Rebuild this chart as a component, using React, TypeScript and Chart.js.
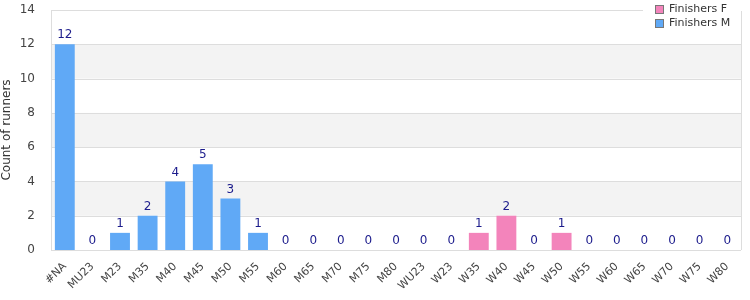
import React, { useEffect, useRef } from "react";
import { Chart, registerables } from "chart.js";

Chart.register(...registerables);

const categories = ["#NA", "MU23", "M23", "M35", "M40", "M45", "M50", "M55", "M60", "M65", "M70", "M75", "M80", "WU23", "W23", "W35", "W40", "W45", "W50", "W55", "W60", "W65", "W70", "W75", "W80"];
const finishersF = [0, 0, 0, 0, 0, 0, 0, 0, 0, 0, 0, 0, 0, 0, 0, 1, 2, 0, 1, 0, 0, 0, 0, 0, 0];
const finishersM = [12, 0, 1, 2, 4, 5, 3, 1, 0, 0, 0, 0, 0, 0, 0, 0, 0, 0, 0, 0, 0, 0, 0, 0, 0];
const yTicks = [0, 2, 4, 6, 8, 10, 12, 14];
const bands = [[2, 4], [6, 8], [10, 12]];

const FONT = "'DejaVu Sans', Verdana, sans-serif";
const PINK = "#f384bb";
const BLUE = "#60a9f6";

export default function App() {
  const ref = useRef<HTMLCanvasElement>(null);
  useEffect(() => {
    document.body.style.margin = "0";
    const canvas = ref.current!;
    const plugin = {
      id: "custom",
      beforeDatasetsDraw(chart: any) {
        const { ctx, chartArea: a, scales } = chart;
        const y = scales.y;
        ctx.save();
        ctx.fillStyle = "#f3f3f3";
        for (const [lo, hi] of bands) {
          const y1 = y.getPixelForValue(hi);
          const y2 = y.getPixelForValue(lo);
          ctx.fillRect(a.left, y1, a.right - a.left, y2 - y1);
        }
        ctx.strokeStyle = "#dddddd";
        ctx.lineWidth = 1;
        for (const t of yTicks) {
          const py = Math.round(y.getPixelForValue(t)) + 0.5;
          ctx.beginPath();
          ctx.moveTo(a.left, py);
          ctx.lineTo(a.right, py);
          ctx.stroke();
        }
        ctx.beginPath();
        ctx.moveTo(Math.round(a.left) + 0.5, a.top);
        ctx.lineTo(Math.round(a.left) + 0.5, a.bottom);
        ctx.moveTo(Math.round(a.right) + 0.5, a.top);
        ctx.lineTo(Math.round(a.right) + 0.5, a.bottom);
        ctx.stroke();
        ctx.restore();
      },
      afterDatasetsDraw(chart: any) {
        const { ctx, scales } = chart;
        const meta = chart.getDatasetMeta(1);
        ctx.save();
        ctx.font = `12px ${FONT}`;
        ctx.fillStyle = "#1c1c8c";
        ctx.textAlign = "center";
        ctx.textBaseline = "bottom";
        categories.forEach((_, i) => {
          const total = finishersF[i] + finishersM[i];
          const x = meta.data[i].x;
          const py = scales.y.getPixelForValue(total);
          ctx.fillText(String(total), x, py - 3);
        });
        ctx.restore();
      },
      afterDraw(chart: any) {
        const { ctx } = chart;
        ctx.save();
        ctx.fillStyle = "#ffffff";
        ctx.fillRect(643, 0, 99, 11);
        const items = [
          { label: "Finishers F", color: PINK },
          { label: "Finishers M", color: BLUE },
        ];
        ctx.font = `11px ${FONT}`;
        ctx.textBaseline = "middle";
        ctx.textAlign = "left";
        items.forEach((it, k) => {
          const cy = 9 + k * 14;
          ctx.fillStyle = it.color;
          ctx.fillRect(655, cy - 4, 9, 9);
          ctx.strokeStyle = "#777777";
          ctx.lineWidth = 1;
          ctx.strokeRect(655.5, cy - 4 + 0.5, 8, 8);
          ctx.fillStyle = "#333333";
          ctx.fillText(it.label, 669, cy);
        });
        ctx.restore();
      },
    };
    const chart = new Chart(canvas, {
      type: "bar",
      data: {
        labels: categories,
        datasets: [
          { label: "Finishers F", data: finishersF, backgroundColor: PINK, borderWidth: 0, barPercentage: 0.72, categoryPercentage: 1 },
          { label: "Finishers M", data: finishersM, backgroundColor: BLUE, borderWidth: 0, barPercentage: 0.72, categoryPercentage: 1 },
        ],
      },
      options: {
        responsive: false,
        animation: false,
        layout: { padding: { top: 10, right: 9, left: 0, bottom: 0 } },
        plugins: { legend: { display: false }, tooltip: { enabled: false } },
        scales: {
          x: {
            stacked: true,
            grid: { display: false },
            border: { display: false },
            ticks: {
              color: "#444444",
              font: { family: FONT, size: 11 },
              maxRotation: 45,
              minRotation: 45,
              autoSkip: false,
              padding: 2,
            },
            afterFit(scale: any) {
              scale.height = 50;
              scale.paddingLeft = 0;
              scale.paddingRight = 0;
            },
          },
          y: {
            stacked: true,
            min: 0,
            max: 14,
            grid: { display: false },
            border: { display: false },
            afterBuildTicks(scale: any) {
              scale.ticks = yTicks.map((v) => ({ value: v }));
            },
            ticks: {
              color: "#444444",
              font: { family: FONT, size: 12 },
              padding: 8,
            },
            title: {
              display: true,
              text: "Count of runners",
              color: "#333333",
              font: { family: FONT, size: 12 },
              padding: { top: 0, bottom: 0 },
            },
            afterFit(scale: any) {
              scale.width = 51;
              scale.paddingTop = 0;
              scale.paddingBottom = 0;
            },
          },
        },
      },
      plugins: [plugin],
    });
    return () => chart.destroy();
  }, []);
  return (
    <div style={{ width: 750, height: 300 }}>
      <canvas ref={ref} width={750} height={300} />
    </div>
  );
}
